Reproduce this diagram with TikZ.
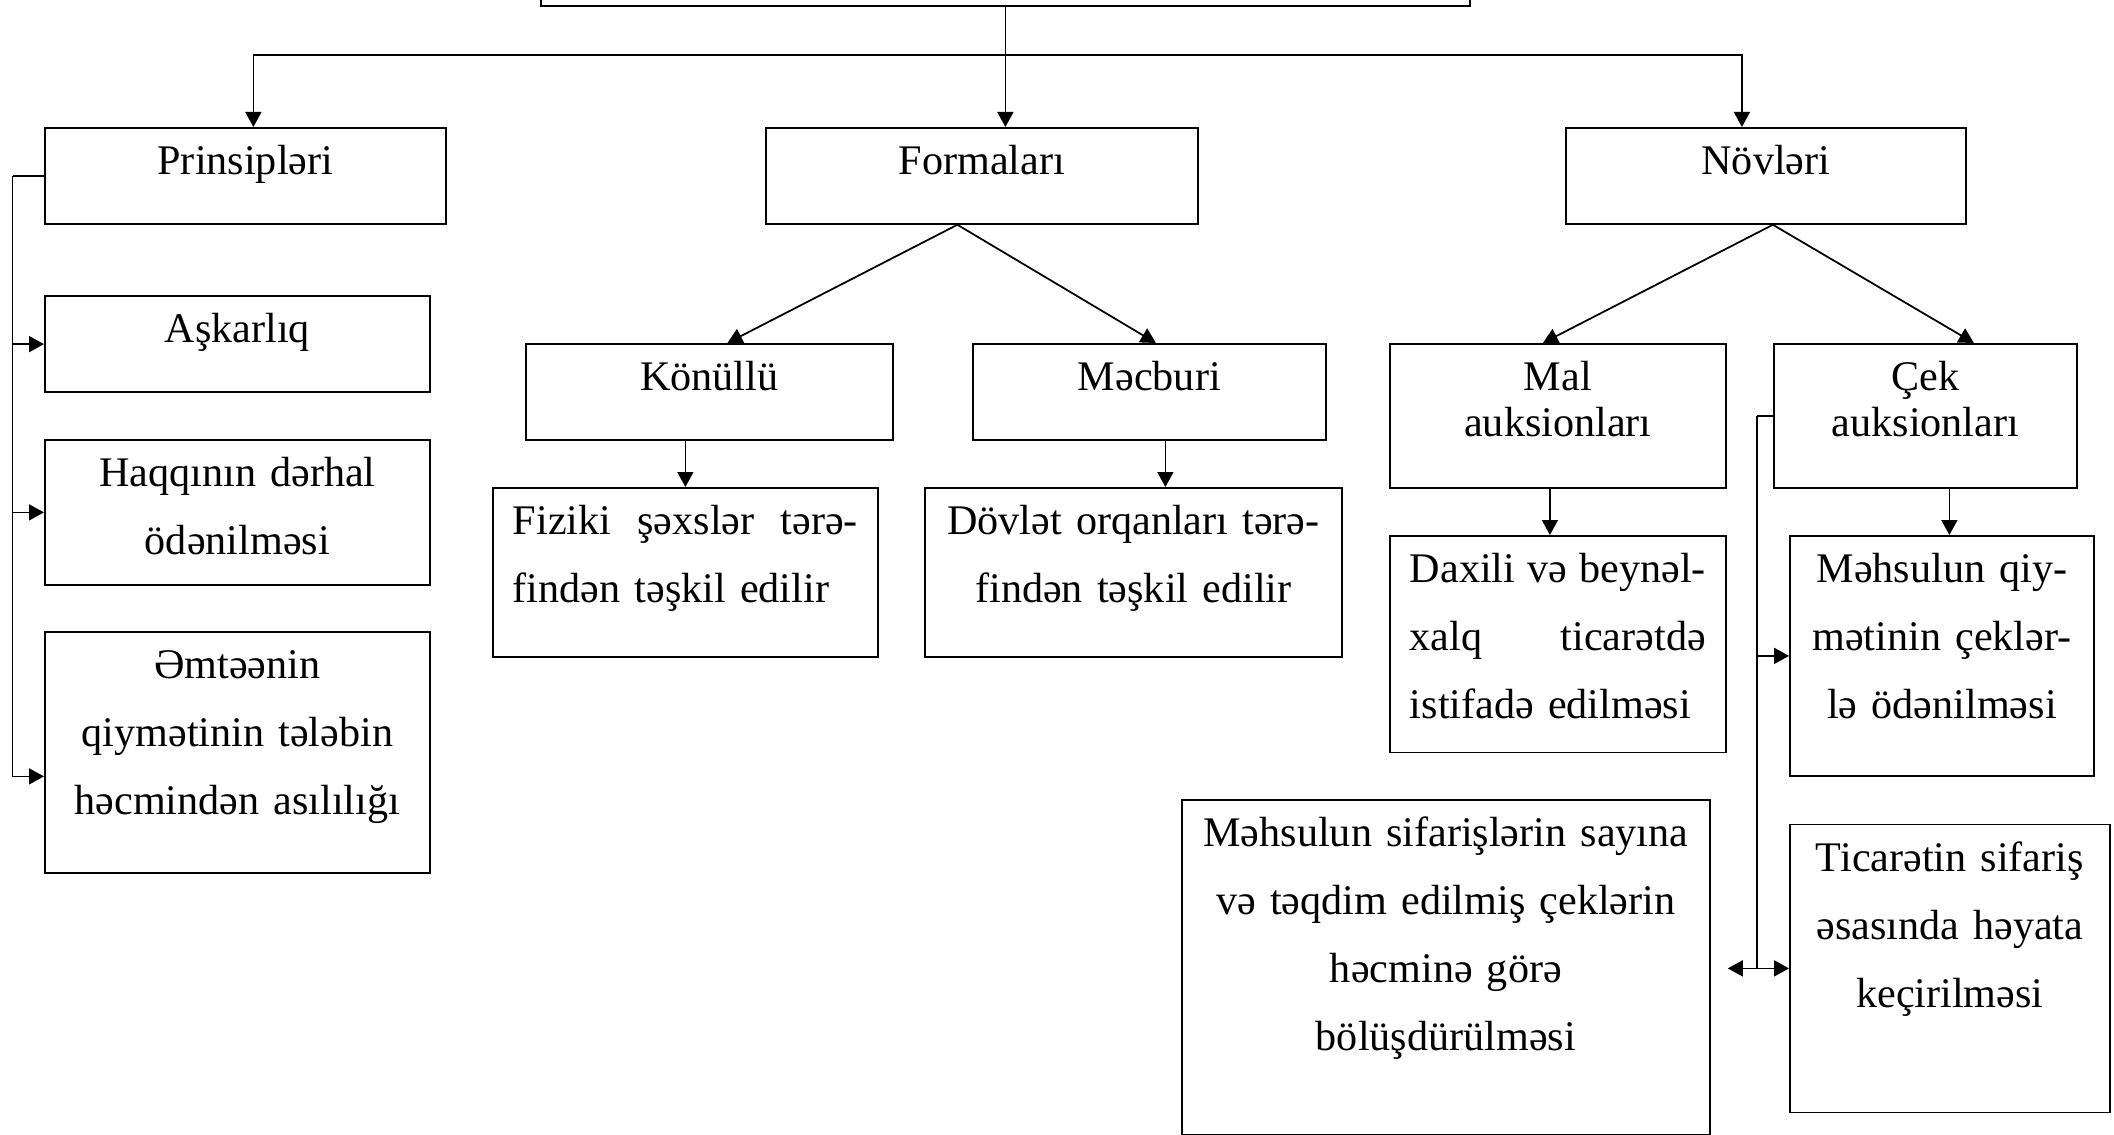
\documentclass[tikz,border=0pt]{standalone}
\usepackage{fontspec}
\setmainfont{Liberation Serif}
\usepackage{tikz}
\usetikzlibrary{arrows.meta}
\tikzset{
  frame/.style={draw, line width=0.5pt, inner sep=0pt},
  bx/.style={frame, anchor=north west, align=center, inner xsep=0.1cm, text height=0.47cm, font=\fontsize{12pt}{19.3pt}\selectfont},
  jbx/.style={bx, align=left, inner xsep=0.2cm},
  tight/.style={font=\fontsize{12pt}{13pt}\selectfont},
  line/.style={line width=0.5pt},
  arr/.style={line, -{Triangle[length=0.15cm, width=0.16cm]}},
  darr/.style={line, {Triangle[length=0.15cm, width=0.16cm]}-{Triangle[length=0.15cm, width=0.16cm]}}
}
% one line stretched to the full width
\newcommand{\spread}[2]{{\spaceskip=0pt\xspaceskip=0pt\makebox[#1][s]{#2}}}

\begin{document}
\begin{tikzpicture}
  \useasboundingbox (0,0) rectangle (21.14,-11.35);
  % top box, mostly above the page
  \node[frame, anchor=south west, minimum width=9.29cm, minimum height=1cm] (top) at (5.40,-0.07) {};

  % first level
  \node[bx, text width=3.81cm, text depth=0.49cm] (prin) at (0.44,-1.27) {Prinsipləri};
  \node[bx, text width=4.12cm, text depth=0.49cm] (frm) at (7.65,-1.27) {Formaları};
  \node[bx, text width=3.80cm, text depth=0.49cm] (nov) at (15.65,-1.27) {Növləri};

  % principles
  \node[bx, text width=3.65cm, text depth=0.495cm] (ask) at (0.44,-2.95) {Aşkarlıq};
  \node[bx, text width=3.65cm, text depth=0.98cm] (haq) at (0.44,-4.39) {Haqqının dərhal\\ödənilməsi};
  \node[bx, text width=3.65cm, text depth=1.94cm] (emt) at (0.44,-6.31) {Əmtəənin\\qiymətinin tələbin\\həcmindən asılılığı};

  % forms
  \node[bx, text width=3.47cm, text depth=0.49cm] (kon) at (5.25,-3.43) {Könüllü};
  \node[bx, text width=3.33cm, text depth=0.49cm] (mec) at (9.72,-3.43) {Məcburi};
  \node[jbx, text width=3.45cm, text depth=1.22cm] (fiz) at (4.92,-4.87) {\spread{3.45cm}{Fiziki şəxslər tərə-}\\findən təşkil edilir};
  \node[bx, text width=3.97cm, text depth=1.22cm] (dov) at (9.24,-4.87) {Dövlət orqanları tərə-\\findən təşkil edilir};

  % kinds
  \node[bx, tight, text width=3.16cm, text depth=0.97cm] (mal) at (13.89,-3.43) {Mal\\auksionları};
  \node[bx, tight, text width=2.83cm, text depth=0.97cm] (cek) at (17.73,-3.43) {Çek\\auksionları};
  \node[jbx, text width=2.96cm, text depth=1.695cm] (dax) at (13.89,-5.35) {\spread{2.96cm}{Daxili və beynəl-}\\\spread{2.96cm}{xalq ticarətdə}\\istifadə edilməsi};
  \node[bx, text width=2.84cm, text depth=1.93cm] (mq) at (17.89,-5.35) {Məhsulun qiy-\\mətinin çeklər-\\lə ödənilməsi};
  \node[bx, text width=5.08cm, text depth=2.88cm] (sif) at (11.81,-7.99) {Məhsulun sifarişlərin sayına\\və təqdim edilmiş çeklərin\\həcminə görə\\bölüşdürülməsi};
  \node[bx, text width=3.00cm, text depth=2.41cm] (tic) at (17.89,-8.235) {Ticarətin sifariş\\əsasında həyata\\keçirilməsi};

  % connectors from the top
  \draw[line] (top.south) -- ++(0,-0.48) coordinate (bus);
  \draw[arr] (bus) -| ([xshift=0.08cm]prin.north);
  \draw[arr] (top.south) -- (top.south |- frm.north);
  \draw[arr] (bus) -| ([xshift=-0.24cm]nov.north);

  % left bus
  \draw[line] (prin.west) -- ++(-0.315,0) coordinate (lb);
  \draw[arr] (lb) |- (ask.west);
  \draw[arr] (lb) |- (haq.west);
  \draw[arr] (lb) |- ([yshift=-0.24cm]emt.west);

  % forms
  \coordinate (fs) at ([xshift=-0.245cm]frm.south);
  \draw[arr] (fs) -- ([xshift=0.18cm]kon.north);
  \draw[arr] (fs) -- ([xshift=0.065cm]mec.north);
  \draw[arr] (fiz.north |- kon.south) -- (fiz.north);
  \draw[arr] ([xshift=0.16cm]mec.south) -- ([xshift=0.16cm]mec.south |- dov.north);

  % kinds
  \coordinate (ns) at ([xshift=0.07cm]nov.south);
  \draw[arr] (ns) -- ([xshift=-0.15cm]mal.north);
  \draw[arr] (ns) -- ([xshift=0.485cm]cek.north);
  \draw[arr] ([xshift=-0.08cm]mal.south) -- ([xshift=-0.08cm]mal.south |- dax.north);
  \draw[arr] ([xshift=0.24cm]cek.south) -- ([xshift=0.24cm]cek.south |- mq.north);

  % right bus
  \draw[line] (cek.west) -- ++(-0.163,0) coordinate (rb);
  \draw[arr] (rb) |- (mq.west);
  \draw[line] (rb) -- (rb |- tic.west);
  \draw[darr] ([xshift=0.17cm]sif.east |- tic.west) -- (tic.west);
\end{tikzpicture}
\end{document}
